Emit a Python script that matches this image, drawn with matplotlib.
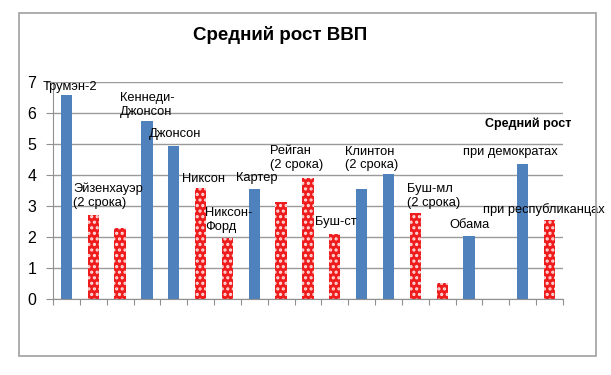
import numpy as np
import matplotlib
matplotlib.use("Agg")
import matplotlib.pyplot as plt
from matplotlib.patches import Rectangle

plt.rcParams['font.family'] = ['Liberation Sans', 'DejaVu Sans']
plt.rcParams['hatch.linewidth'] = 1.5

# данные: рост ВВП по периодам (19 позиций, 16-я пустая)
values = [6.57, 2.71, 2.29, 5.74, 4.95, 3.57, 1.98, 3.56, 3.13, 3.91,
          2.09, 3.54, 4.03, 2.76, 0.53, 2.04, np.nan, 4.34, 2.54]
party = ['D', 'R', 'R', 'D', 'D', 'R', 'R', 'D', 'R', 'R',
         'R', 'D', 'D', 'R', 'R', 'D', '', 'D', 'R']

labels = ["Трумэн-2", "Эйзенхауэр\n(2 срока)", "Кеннеди-\nДжонсон", "Джонсон",
          "Никсон", "Никсон-\nФорд", "Картер", "Рейган\n(2 срока)", "Буш-ст",
          "Клинтон\n(2 срока)", "Буш-мл\n(2 срока)", "Обама",
          "при демократах", "при республиканцах"]
# позиции подписей (в единицах осей)
label_pos = [(-0.37, 6.84), (0.75, 3.32), (2.50, 6.27), (3.58, 5.32),
             (4.81, 3.87), (5.66, 2.55), (6.82, 3.90), (8.08, 4.56),
             (9.76, 2.48), (10.88, 4.53), (13.19, 3.32), (14.75, 2.39),
             (15.28, 4.74), (16.02, 2.90)]

fig = plt.figure(figsize=(6.11, 3.75), dpi=100)
fig.patch.set_facecolor('white')
fig.patches.append(Rectangle((0.031, 0.051), 0.944, 0.915, transform=fig.transFigure,
                             fill=False, edgecolor='#a0a0a0', linewidth=1.2))

ax = fig.add_axes([0.0867, 0.2027, 0.8347, 0.5786])
x = np.arange(len(values)) + 0.5
for xi, v, p in zip(x, values, party):
    if p == 'D':
        ax.bar(xi, v, width=0.42, color='#4f81bd', linewidth=0)
    elif p == 'R':
        ax.bar(xi, v, width=0.42, color='#ee1c1c', edgecolor='#ffdede',
               hatch='...', linewidth=0)

ax.set_xlim(0, len(values))
ax.set_ylim(0, 7)
ax.set_yticks(range(8))
ax.set_xticks(range(len(values) + 1))
ax.set_xticklabels([])
ax.tick_params(axis='y', labelsize=11.5, length=5, color='#909090', pad=7)
ax.tick_params(axis='x', length=4, color='#909090', direction='out')
ax.yaxis.grid(True, color='#9a9a9a', linewidth=1)
ax.set_axisbelow(True)
for s in ['top', 'right']:
    ax.spines[s].set_visible(False)
ax.spines['left'].set_color('#909090')
ax.spines['bottom'].set_color('#909090')

for t, (lx, ly) in zip(labels, label_pos):
    ax.text(lx, ly, t, fontsize=9.3, ha='left', va='center', linespacing=1.2,
            clip_on=False)
ax.text(16.1, 5.65, "Средний рост", fontsize=9, fontweight='bold',
        ha='left', va='center', clip_on=False)

fig.text(0.458, 0.906, "Средний рост ВВП", fontsize=13.5, fontweight='bold',
         ha='center', va='center')

fig.savefig("out.png", dpi=100)
